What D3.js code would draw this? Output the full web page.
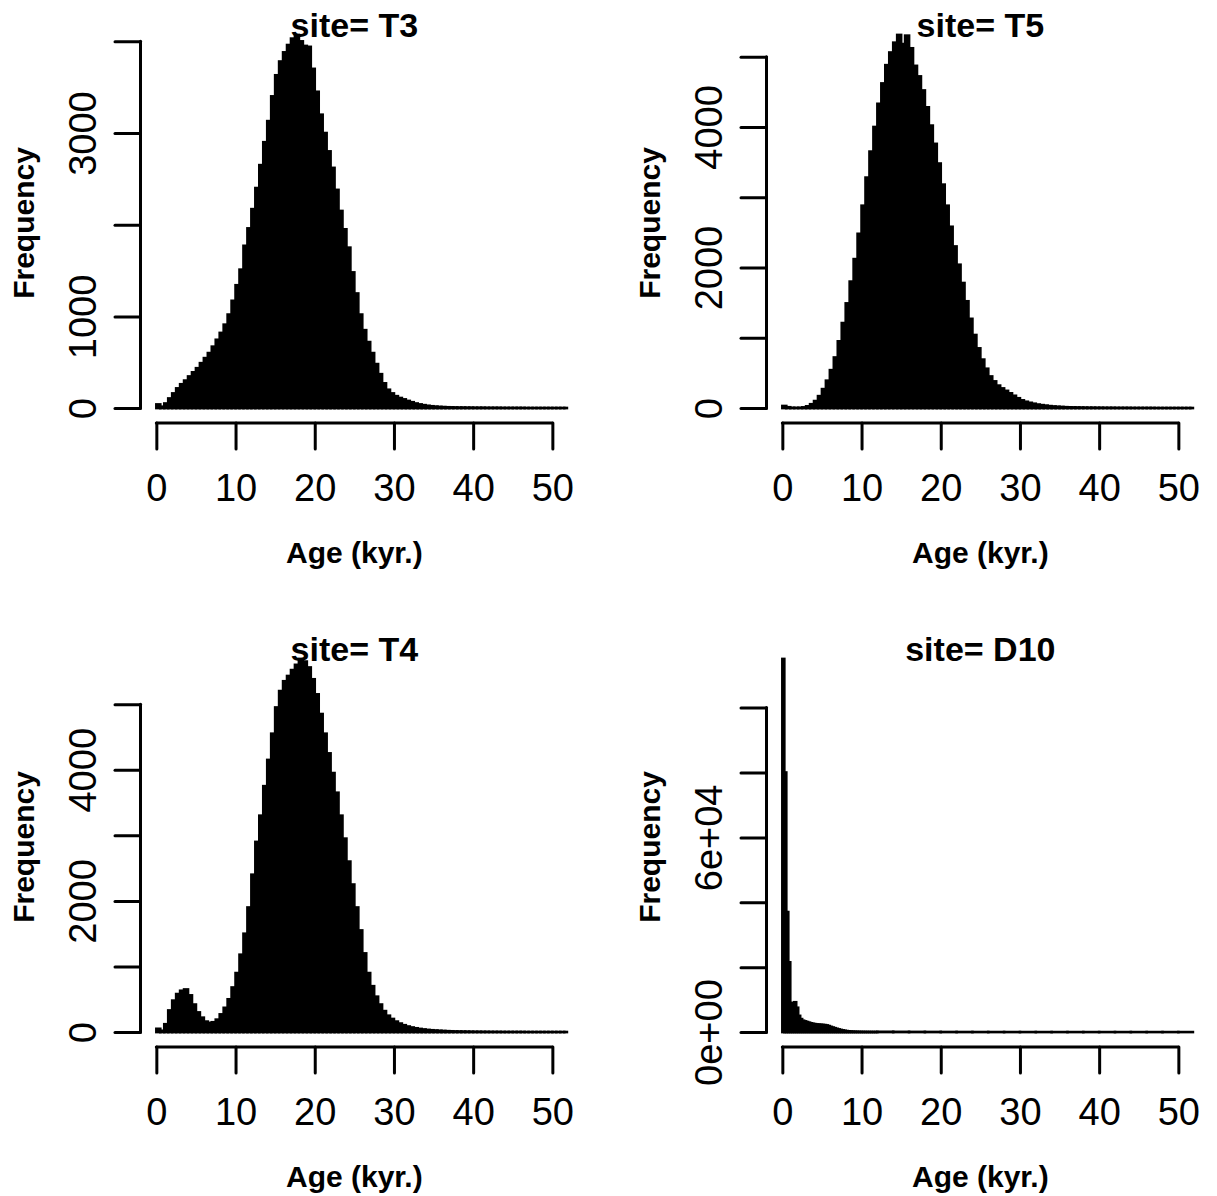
<!DOCTYPE html>
<html>
<head>
<meta charset="utf-8">
<script src="https://cdn.jsdelivr.net/npm/d3@7"></script>
<style>
  html, body { margin: 0; padding: 0; background: #fff; }
  svg { display: block; }
</style>
</head>
<body>
<svg id="chart" width="1217" height="1196"></svg>
<script>
// ---------------- DATA ----------------
const siteTitles = ["site= T3", "site= T5", "site= T4", "site= D10"];
const xAxisTitle = "Age (kyr.)";
const yAxisTitle = "Frequency";

const xTicks = [0, 10, 20, 30, 40, 50];
const xLimits = [-2, 52];

// Histogram counts, bins of 0.5 kyr starting at 0
const t3Counts = [
  40, 15, 50, 105, 160, 215, 260, 300, 345, 390,
  435, 490, 545, 600, 670, 745, 820, 910, 1020, 1170,
  1340, 1510, 1770, 1960, 2170, 2400, 2650, 2900, 3130, 3400,
  3630, 3780, 3880, 3960, 4030, 4070, 4000, 3950, 3940, 3700,
  3450, 3200, 3000, 2800, 2620, 2380, 2150, 1950, 1750, 1480,
  1250, 1020, 850, 720, 600, 480, 370, 270, 200, 160,
  130, 110, 95, 78, 64, 50, 40, 32, 25, 20,
  16, 13, 11, 9, 8, 7, 6, 6, 5, 5,
  4, 4, 4, 3, 3, 3, 3, 2, 2, 2,
  2, 2, 2, 1, 1, 1, 1, 1, 1, 1,
  1, 1, 1, 1
];
const t5Counts = [
  30, 12, 4, 3, 4, 10, 25, 55, 100, 170,
  270, 390, 540, 720, 950, 1210, 1490, 1800, 2120, 2480,
  2880, 3280, 3650, 4000, 4330, 4620, 4880, 5060, 5200, 5310,
  5180, 5300, 5120, 4870, 4720, 4520, 4280, 4020, 3760, 3480,
  3180, 2880, 2580, 2300, 2040, 1780, 1520, 1270, 1040, 850,
  690, 560, 450, 380, 320, 280, 245, 210, 175, 140,
  110, 90, 75, 62, 50, 42, 35, 28, 23, 19,
  16, 13, 11, 10, 9, 8, 7, 6, 6, 5,
  5, 4, 4, 4, 3, 3, 3, 3, 2, 2,
  2, 2, 2, 2, 1, 1, 1, 1, 1, 1,
  1, 1, 1, 1
];
const t4Counts = [
  50, 20, 120, 330, 480, 580, 630, 650, 560, 420,
  300, 220, 160, 140, 150, 190, 270, 370, 500, 680,
  900, 1180, 1500, 1900, 2400, 2900, 3300, 3750, 4150, 4550,
  4950, 5200, 5350, 5430, 5520, 5600, 5690, 5650, 5560, 5380,
  5150, 4850, 4550, 4250, 3950, 3650, 3300, 2950, 2600, 2250,
  1900, 1550, 1200, 900, 700, 540, 420, 320, 250, 200,
  160, 130, 105, 85, 70, 58, 48, 40, 33, 28,
  24, 20, 17, 14, 12, 10, 9, 8, 7, 6,
  5, 5, 4, 4, 3, 3, 3, 2, 2, 2,
  2, 2, 2, 1, 1, 1, 1, 1, 1, 1,
  1, 1, 1, 1
];
// D10: bins of 0.25 kyr from 0 to 12, then bins of 2 kyr from 12 to 52
const d10Counts = [
  115000, 80000, 37000, 21500, 6000, 9000, 9200, 7500, 5000, 4000,
  3500, 3300, 3100, 2900, 2700, 2550, 2450, 2350, 2300, 2250,
  2200, 2150, 2050, 1850, 1600, 1400, 1200, 1000, 820, 660,
  520, 400, 310, 240, 180, 140, 110, 90, 75, 62,
  52, 45, 40, 36, 33, 30, 28, 26
];
const d10TailCounts = [90, 70, 55, 40, 30, 22, 16, 12, 9, 7, 5, 4, 3, 3, 2, 2, 2, 1, 1, 1];

const t3YTicks = [0, 1000, 2000, 3000, 4000];
const t3YLabels = ["0", "1000", "", "3000", ""];
const t5YTicks = [0, 1000, 2000, 3000, 4000, 5000];
const t5YLabels = ["0", "", "2000", "", "4000", ""];
const t4YTicks = [0, 1000, 2000, 3000, 4000, 5000];
const t4YLabels = ["0", "", "2000", "", "4000", ""];
const d10YTicks = [0, 20000, 40000, 60000, 80000, 100000];
const d10YLabels = ["0e+00", "", "", "6e+04", "", ""];

// ---------------- LAYOUT ----------------
const FONT = "'Liberation Sans', Arial, Helvetica, sans-serif";
const cellOffsets = [[0, 0], [626, 0], [0, 624], [626, 624]];
const region = { left: 140.5, right: 568.2, top: 20, bottom: 423 };

const panels = [
  { title: siteTitles[0], segs: [{ start: 0, width: 0.5, counts: t3Counts }], yTicks: t3YTicks, yLabels: t3YLabels },
  { title: siteTitles[1], segs: [{ start: 0, width: 0.5, counts: t5Counts }], yTicks: t5YTicks, yLabels: t5YLabels },
  { title: siteTitles[2], segs: [{ start: 0, width: 0.5, counts: t4Counts }], yTicks: t4YTicks, yLabels: t4YLabels },
  { title: siteTitles[3], segs: [{ start: 0, width: 0.25, counts: d10Counts }, { start: 12, width: 2, counts: d10TailCounts }], yTicks: d10YTicks, yLabels: d10YLabels }
];

const svg = d3.select("#chart");

panels.forEach((p, i) => {
  const g = svg.append("g").attr("transform", `translate(${cellOffsets[i][0]},${cellOffsets[i][1]})`);

  const x = d3.scaleLinear().domain(xLimits).range([region.left, region.right]);
  const M = d3.max(p.segs.flatMap(s => s.counts));
  const y = d3.scaleLinear().domain([-0.04 * M, 1.04 * M]).range([region.bottom, region.top]);

  const cid = "clip" + i;
  g.append("clipPath").attr("id", cid).append("rect")
    .attr("x", region.left).attr("y", region.top)
    .attr("width", region.right - region.left).attr("height", region.bottom - region.top);

  const bars = [];
  p.segs.forEach(s => s.counts.forEach((c, k) => bars.push({ x0: s.start + k * s.width, x1: s.start + (k + 1) * s.width, c })));

  g.append("g").attr("clip-path", `url(#${cid})`)
    .selectAll("rect").data(bars).join("rect")
    .attr("x", d => x(d.x0))
    .attr("width", d => x(d.x1) - x(d.x0))
    .attr("y", d => y(d.c))
    .attr("height", d => y(0) - y(d.c))
    .attr("fill", "#000")
    .attr("stroke", "#000")
    .attr("stroke-width", 2.6);

  // X axis
  const xAxis = d3.axisBottom(x).tickValues(xTicks).tickSize(26).tickSizeOuter(0).tickPadding(25).tickFormat(d3.format("d"));
  const gx = g.append("g").attr("transform", `translate(0,${region.bottom})`).call(xAxis);
  gx.attr("font-size", 38).attr("font-family", FONT);
  gx.select(".domain").attr("d", `M${x(xTicks[0])},0H${x(xTicks[xTicks.length - 1])}`)
    .attr("stroke", "#000").attr("stroke-width", 3).attr("stroke-linecap", "round");
  gx.selectAll(".tick line").attr("stroke", "#000").attr("stroke-width", 3).attr("stroke-linecap", "round");
  gx.selectAll(".tick text").attr("fill", "#000");

  // Y axis
  const yAxis = d3.axisLeft(y).tickValues(p.yTicks).tickSize(25.5).tickSizeOuter(0).tickFormat((d, k) => p.yLabels[k]);
  const gy = g.append("g").attr("transform", `translate(${region.left},0)`).call(yAxis);
  gy.attr("font-size", 38).attr("font-family", FONT);
  gy.select(".domain").attr("d", `M0,${y(p.yTicks[0])}V${y(p.yTicks[p.yTicks.length - 1])}`)
    .attr("stroke", "#000").attr("stroke-width", 3).attr("stroke-linecap", "round");
  gy.selectAll(".tick line").attr("stroke", "#000").attr("stroke-width", 3).attr("stroke-linecap", "round");
  gy.selectAll(".tick text")
    .attr("fill", "#000")
    .attr("x", 0).attr("dy", 0)
    .attr("text-anchor", "middle")
    .attr("transform", "translate(-44.5,0) rotate(-90)");

  const cx = (region.left + region.right) / 2;
  const cy = (region.top + region.bottom) / 2;

  g.append("text").attr("x", cx).attr("y", 36.5)
    .attr("text-anchor", "middle").attr("font-family", FONT).attr("font-weight", "bold").attr("font-size", 34)
    .attr("fill", "#000").text(p.title);

  g.append("text").attr("x", cx).attr("y", 563)
    .attr("text-anchor", "middle").attr("font-family", FONT).attr("font-weight", "bold").attr("font-size", 30)
    .attr("fill", "#000").text(xAxisTitle);

  g.append("text").attr("transform", `translate(34,${cy + 1.5}) rotate(-90)`)
    .attr("text-anchor", "middle").attr("font-family", FONT).attr("font-weight", "bold").attr("font-size", 30)
    .attr("fill", "#000").text(yAxisTitle);
});
</script>
</body>
</html>
